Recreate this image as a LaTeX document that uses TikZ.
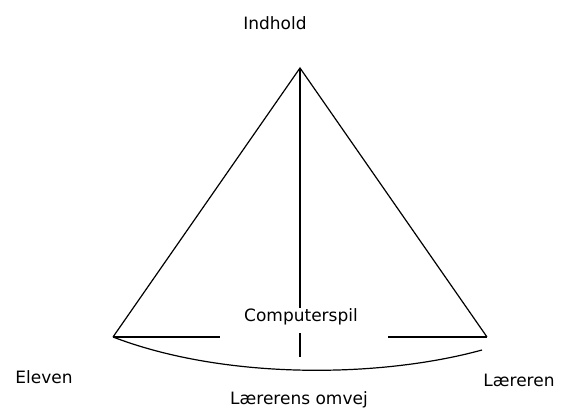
\documentclass[tikz,border=0pt]{standalone}
\usepackage{fontspec}
\setmainfont{DejaVu Sans}
\begin{document}
\begin{tikzpicture}[x=1pt,y=-1pt,line width=1.2pt,
  lbl/.style={font=\fontsize{17}{20}\selectfont,inner sep=0pt}]
\useasboundingbox (0,0) rectangle (562,412);
% corners of the triangle
\coordinate (top) at (300,68);
\coordinate (elev) at (113,337);
\coordinate (laer) at (487,337);
\coordinate (gapl) at (220,337);
\coordinate (gapr) at (388,337);
\coordinate (midlow) at (300,333);
\coordinate (midbot) at (300,357);
\coordinate (omvejend) at (482,350);
% labels
\node[lbl] (indhold) at (275,23) {Indhold};
\node[lbl] (spil) at (301,317) {Computerspil};
\node[lbl] (eleven) at (44,377) {Eleven};
\node[lbl] (laereren) at (519,380) {Læreren};
\node[lbl] (omvej) at (299,400) {Lærerens omvej};
% lines
\draw (elev) -- (top) -- (laer);
\draw (top) -- (spil.north -| top);
\draw (elev) -- (gapl);
\draw (gapr) -- (laer);
\draw (midlow) -- (midbot);
\draw (elev) .. controls (225,380) and (380,378) .. (omvejend);
\end{tikzpicture}
\end{document}
